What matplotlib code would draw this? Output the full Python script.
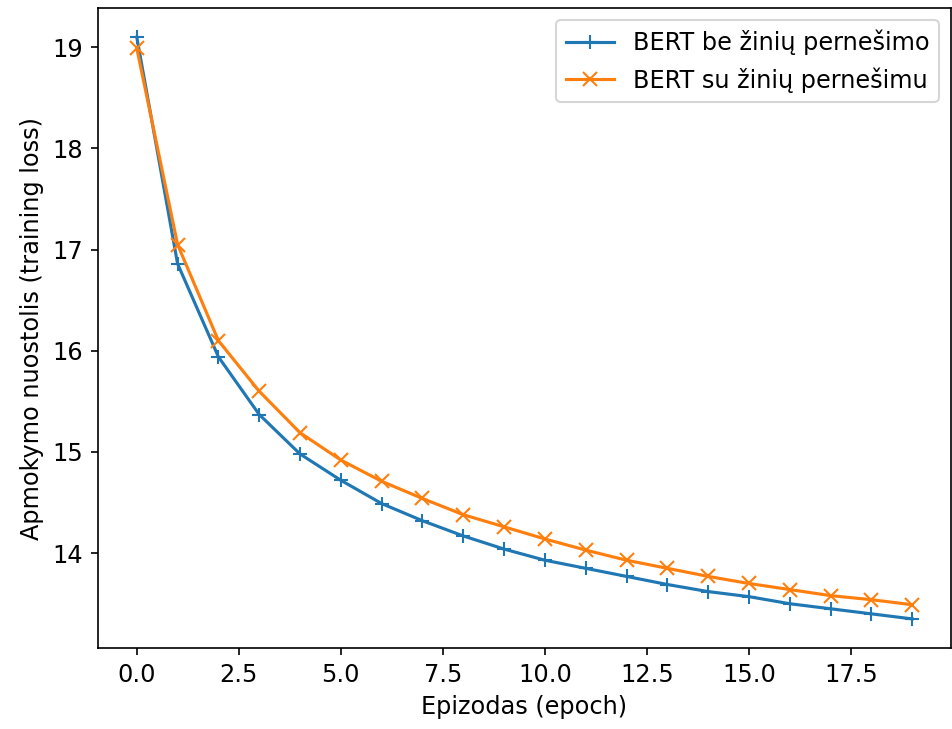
import matplotlib
matplotlib.use("Agg")
import matplotlib.pyplot as plt

epochs = list(range(20))
loss_no_transfer = [19.10, 16.86, 15.94, 15.37, 14.98, 14.72, 14.49, 14.32, 14.17, 14.04,
                    13.93, 13.85, 13.77, 13.69, 13.62, 13.57, 13.50, 13.45, 13.40, 13.35]
loss_transfer = [18.99, 17.05, 16.10, 15.60, 15.19, 14.92, 14.71, 14.54, 14.38, 14.26,
                 14.14, 14.03, 13.93, 13.85, 13.77, 13.70, 13.64, 13.58, 13.54, 13.49]

plt.rcParams['font.size'] = 11.5

dpi = 150
fig = plt.figure(figsize=(952 / dpi, 729 / dpi), dpi=dpi)
ax = fig.add_axes([98 / 952, 1 - 648 / 729, (951 - 98) / 952, (648 - 8) / 729])
ax.plot(epochs, loss_no_transfer, marker='+', markersize=7, label='BERT be žinių pernešimo')
ax.plot(epochs, loss_transfer, marker='x', markersize=7, label='BERT su žinių pernešimu')
ax.set_xlabel('Epizodas (epoch)')
ax.set_ylabel('Apmokymo nuostolis (training loss)')
ax.legend(loc='upper right')
fig.savefig('out.png', dpi=dpi)
